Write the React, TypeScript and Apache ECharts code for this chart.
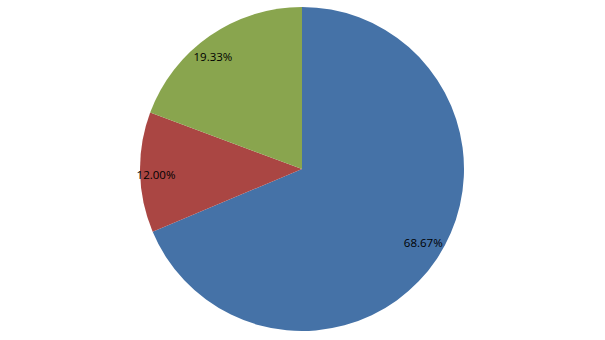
import React, { useEffect, useRef } from "react";
import * as echarts from "echarts";

const categories = ["A", "B", "C"];
const values = [68.67, 12.0, 19.33];
const colors = ["#4572A7", "#AA4643", "#89A54E"];

export default function App() {
  const ref = useRef<HTMLDivElement>(null);
  useEffect(() => {
    document.body.style.margin = "0";
    const chart = echarts.init(ref.current!, null, { renderer: "svg" });
    const labelShift = [
      [3, -5],
      [-4, 3],
      [-8, 4],
    ];
    chart.setOption({
      animation: false,
      series: [
        {
          type: "pie",
          center: [302, 169],
          radius: [0, 162],
          startAngle: 90,
          clockwise: true,
          silent: true,
          label: { show: false },
          labelLine: { show: false },
          data: categories.map((c, i) => ({
            name: c,
            value: values[i],
            itemStyle: { color: colors[i] },
          })),
        },
        {
          type: "pie",
          center: [302, 169],
          radius: [116, 162],
          startAngle: 90,
          clockwise: true,
          silent: true,
          itemStyle: { color: "transparent" },
          label: {
            show: true,
            position: "inside",
            formatter: (p: any) => p.value.toFixed(2) + "%",
            color: "#000",
            fontFamily: "Open Sans",
            fontSize: 11.5,
          },
          labelLine: { show: false },
          data: categories.map((c, i) => ({
            name: c,
            value: values[i],
            itemStyle: { color: "transparent" },
            label: { offset: labelShift[i] },
          })),
        },
      ],
    });
    return () => chart.dispose();
  }, []);
  return <div ref={ref} style={{ width: 605, height: 340 }} />;
}
